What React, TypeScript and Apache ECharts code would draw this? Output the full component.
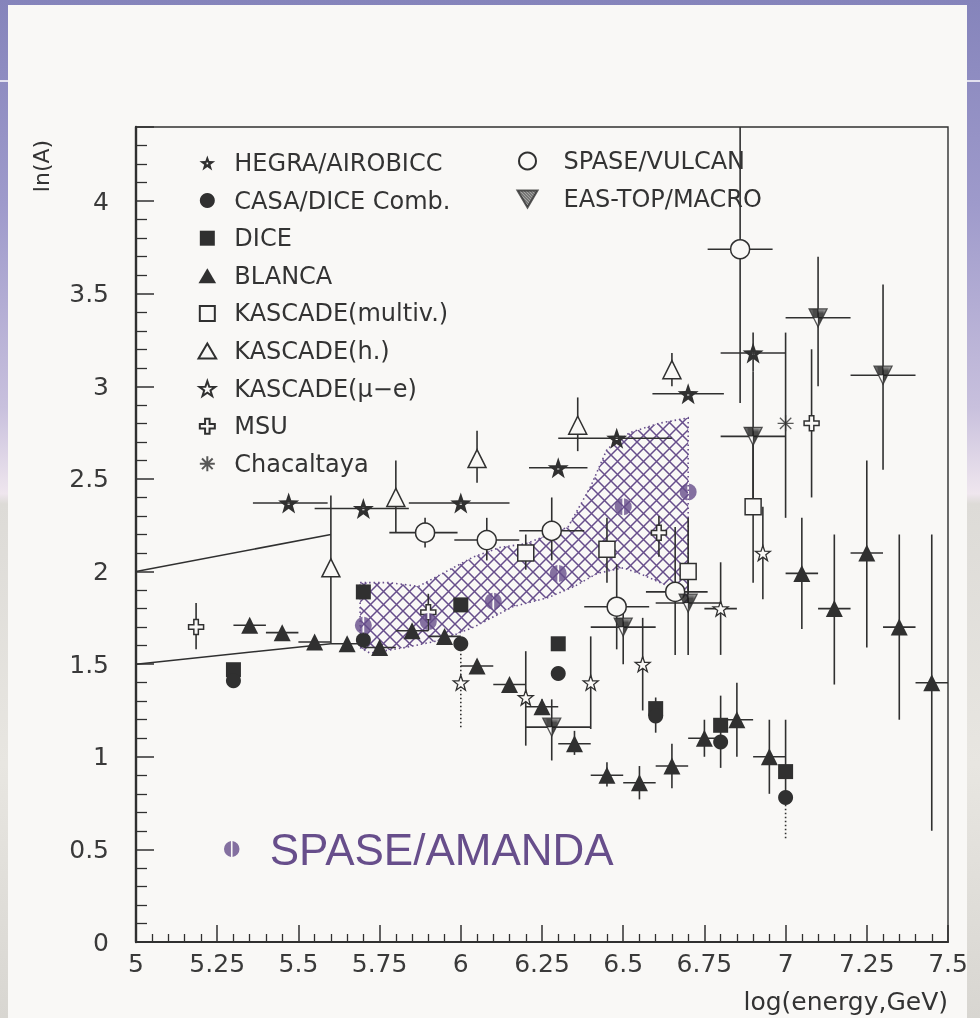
import React, { useEffect, useRef } from "react";
import * as echarts from "echarts";

const INK = "#303030";
const PURPLE = "#674e8b";
const PANEL = "#f9f8f6";
const FONT = "DejaVu Sans";

// axis ranges
const xRange = [5, 7.5];
const xTickStep = 0.25;
const yRange = [0, 4.4];
const yTickStep = 0.5;

// each row: [x, y, xLow, xHigh, yLow, yHigh]  (null = no bar)
const hegraAirobicc = [
  [5.47, 2.37, 5.36, 5.59, null, null],
  [5.70, 2.34, 5.55, 5.84, null, null],
  [6.00, 2.37, 5.84, 6.15, null, null],
  [6.30, 2.56, 6.21, 6.39, null, null],
  [6.48, 2.72, 6.30, 6.65, null, null],
  [6.70, 2.96, 6.59, 6.81, null, null],
  [6.90, 3.18, 6.80, 7.00, 3.08, 3.29],
];
const casaDiceComb = [
  [5.30, 1.41, null, null, null, null],
  [5.70, 1.63, null, null, null, null],
  [6.00, 1.61, null, null, null, null],
  [6.30, 1.45, null, null, null, null],
  [6.60, 1.22, null, null, 1.13, 1.32],
  [6.80, 1.08, null, null, 0.94, 1.33],
  [7.00, 0.78, null, null, null, null],
];
const dice = [
  [5.30, 1.47, null, null, null, null],
  [5.70, 1.89, null, null, null, null],
  [6.00, 1.82, null, null, null, null],
  [6.30, 1.61, null, null, null, null],
  [6.60, 1.26, null, null, null, null],
  [6.80, 1.17, null, null, null, null],
  [7.00, 0.92, null, null, 0.78, 1.20],
];
const blanca = [
  [5.35, 1.71, 5.30, 5.40, null, null],
  [5.45, 1.67, 5.40, 5.50, null, null],
  [5.55, 1.62, 5.50, 5.60, null, null],
  [5.65, 1.61, 5.60, 5.70, null, null],
  [5.75, 1.59, 5.70, 5.80, null, null],
  [5.85, 1.68, 5.80, 5.90, null, null],
  [5.95, 1.65, 5.90, 6.00, null, null],
  [6.05, 1.49, 6.00, 6.10, null, null],
  [6.15, 1.39, 6.10, 6.20, null, null],
  [6.25, 1.27, 6.20, 6.30, 1.23, 1.31],
  [6.35, 1.07, 6.30, 6.40, 1.01, 1.14],
  [6.45, 0.90, 6.40, 6.50, 0.84, 0.97],
  [6.55, 0.86, 6.50, 6.60, 0.77, 0.95],
  [6.65, 0.95, 6.60, 6.70, 0.83, 1.07],
  [6.75, 1.10, 6.70, 6.80, 1.00, 1.20],
  [6.85, 1.20, 6.80, 6.90, 1.00, 1.40],
  [6.95, 1.00, 6.90, 7.00, 0.80, 1.20],
  [7.05, 1.99, 7.00, 7.10, 1.69, 2.29],
  [7.15, 1.80, 7.10, 7.20, 1.39, 2.20],
  [7.25, 2.10, 7.20, 7.30, 1.59, 2.60],
  [7.35, 1.70, 7.30, 7.40, 1.20, 2.20],
  [7.45, 1.40, 7.40, 7.50, 0.60, 2.20],
];
const kascadeMultiv = [
  [6.20, 2.10, null, null, 2.01, 2.20],
  [6.45, 2.12, null, null, 1.94, 2.29],
  [6.70, 2.00, null, null, 1.80, 2.29],
  [6.90, 2.35, null, null, 1.94, 2.70],
];
const kascadeH = [
  [5.60, 2.02, null, null, 1.61, 2.41],
  [5.80, 2.40, null, null, 2.21, 2.60],
  [6.05, 2.61, null, null, 2.48, 2.76],
  [6.36, 2.79, null, null, 2.65, 2.94],
  [6.65, 3.09, null, null, 3.00, 3.18],
];
const kascadeMuE = [
  [6.00, 1.40, null, null, null, null],
  [6.20, 1.32, null, null, 1.06, 1.57],
  [6.40, 1.40, null, null, 1.15, 1.65],
  [6.56, 1.50, null, null, 1.25, 1.75],
  [6.80, 1.80, 6.75, 6.85, 1.55, 2.05],
  [6.93, 2.10, null, null, 1.85, 2.35],
];
const msu = [
  [5.185, 1.70, null, null, 1.58, 1.83],
  [5.90, 1.78, null, null, 1.68, 1.88],
  [6.61, 2.21, null, null, 2.08, 2.30],
  [7.08, 2.80, null, null, 2.40, 3.20],
];
const chacaltaya = [[7.00, 2.80, null, null, 2.29, 3.29]];
const spaseVulcan = [
  [5.89, 2.21, 5.78, 5.99, 2.13, 2.29],
  [6.08, 2.17, 5.98, 6.18, 2.06, 2.29],
  [6.28, 2.22, 6.18, 6.38, 2.06, 2.40],
  [6.48, 1.81, 6.38, 6.58, 1.58, 2.04],
  [6.66, 1.89, 6.57, 6.76, 1.55, 2.24],
  [6.86, 3.74, 6.76, 6.96, 2.91, 4.40],
];
const easTopMacro = [
  [6.28, 1.16, 6.20, 6.40, 0.98, 1.31],
  [6.50, 1.70, 6.40, 6.60, 1.50, 1.85],
  [6.70, 1.83, 6.60, 6.80, 1.55, 2.05],
  [6.90, 2.73, 6.80, 7.00, 2.35, 3.08],
  [7.10, 3.37, 7.00, 7.20, 3.00, 3.70],
  [7.30, 3.06, 7.20, 7.40, 2.55, 3.55],
];
const spaseAmanda = [
  [5.70, 1.71],
  [5.90, 1.73],
  [6.10, 1.84],
  [6.30, 1.99],
  [6.50, 2.35],
  [6.70, 2.43],
];
// dotted systematic bars: [x, yLow, yHigh]
const casaSysBars = [
  [6.00, 1.16, 1.61],
  [7.00, 0.56, 0.78],
];
// hatched SPASE/AMANDA band
const bandUpper = [
  [5.69, 1.94], [5.78, 1.94], [5.87, 1.92], [6.04, 2.08], [6.12, 2.13], [6.20, 2.15],
  [6.33, 2.24], [6.40, 2.46], [6.45, 2.66], [6.52, 2.75], [6.61, 2.80], [6.70, 2.83],
];
const bandLower = [
  [6.70, 1.80], [6.64, 1.92], [6.55, 1.99], [6.50, 2.02], [6.42, 1.99], [6.35, 1.92],
  [6.27, 1.86], [6.16, 1.81], [6.04, 1.70], [5.94, 1.63], [5.83, 1.59], [5.72, 1.56], [5.69, 1.59],
];
// straight reference lines
const refLineUpper = [[5.0, 2.0], [5.6, 2.2]];
const refLineLower = [[5.0, 1.5], [5.6, 1.61]];

const STAR = "path://M10,0 L12.35,6.76 L19.51,6.91 L13.8,11.24 L15.88,18.09 L10,14 L4.12,18.09 L6.2,11.24 L0.49,6.91 L7.65,6.76 Z";
const STAR_DOT = STAR + " M9,8.4 L9,10.6 L11,10.6 L11,8.4 Z";
const CROSS = "path://M7,0 L13,0 L13,7 L20,7 L20,13 L13,13 L13,20 L7,20 L7,13 L0,13 L0,7 L7,7 Z";
const ASTER = "path://M10,0 L10,20 M0,10 L20,10 M2.9,2.9 L17.1,17.1 M17.1,2.9 L2.9,17.1";
const HALF = "path://M9,0.1 A10,10 0 0 0 9,19.9 Z M11,0.1 A10,10 0 0 1 11,19.9 Z";
const DOWN_TRI = "path://M0,0 L20,0 L10,17 Z";
const UP_TRI = "path://M10,0 L20,17 L0,17 Z";
const SQUARE = "path://M0,0 L20,0 L20,20 L0,20 Z";

function fill(rows: any[]) {
  return rows.map((r) => [
    r[0], r[1],
    r[2] ?? r[0], r[3] ?? r[0],
    r[4] ?? r[1], r[5] ?? r[1],
  ]);
}

function makeCrossHatch() {
  const s = 13;
  const c = document.createElement("canvas");
  c.width = s;
  c.height = s;
  const g = c.getContext("2d")!;
  g.strokeStyle = PURPLE;
  g.lineWidth = 1.5;
  g.beginPath();
  g.moveTo(0, 0);
  g.lineTo(s, s);
  g.moveTo(s, 0);
  g.lineTo(0, s);
  g.stroke();
  return { image: c.toDataURL(), repeat: "repeat", imageWidth: s, imageHeight: s };
}

function makeStripes() {
  const s = 3;
  const c = document.createElement("canvas");
  c.width = s;
  c.height = s;
  const g = c.getContext("2d")!;
  g.fillStyle = "#ffffff";
  g.fillRect(0, 0, s, s);
  g.fillStyle = "#1e1e1e";
  for (let i = 0; i < s; i++) {
    g.fillRect(i, i, 1, 1);
    g.fillRect((i + 1) % s, i, 1, 1);
  }
  return { image: c.toDataURL(), repeat: "repeat", imageWidth: s, imageHeight: s };
}

function errorSeries(rows: any[]) {
  return {
    type: "custom",
    z: 2,
    silent: true,
    dimensions: ["x", "y", "xlo", "xhi", "ylo", "yhi"],
    encode: { x: 0, y: 1 },
    data: fill(rows),
    renderItem: (params: any, api: any) => {
      const x = api.value(0), y = api.value(1);
      const xlo = api.value(2), xhi = api.value(3);
      const ylo = api.value(4), yhi = api.value(5);
      const style = { stroke: INK, lineWidth: 1.6 };
      const children: any[] = [];
      if (xlo !== xhi) {
        const a = api.coord([xlo, y]);
        const b = api.coord([xhi, y]);
        children.push({ type: "line", shape: { x1: a[0], y1: a[1], x2: b[0], y2: b[1] }, style });
      }
      if (ylo !== yhi) {
        const a = api.coord([x, ylo]);
        const b = api.coord([x, yhi]);
        children.push({ type: "line", shape: { x1: a[0], y1: a[1], x2: b[0], y2: b[1] }, style });
      }
      return { type: "group", children };
    },
  };
}

function pointSeries(name: string, rows: any[], symbol: string, size: number, itemStyle: any) {
  return {
    type: "scatter",
    name,
    z: 3,
    silent: true,
    symbol,
    symbolSize: size,
    itemStyle,
    data: rows.map((r) => [r[0], r[1]]),
  };
}

function buildOption(hatch: any, stripes: any) {
  const filled = { color: INK, borderWidth: 0, opacity: 1 };
  const open = { color: PANEL, borderColor: INK, borderWidth: 1.5, opacity: 1 };
  const legendText = { fontFamily: FONT, fontSize: 24, color: "#333" };
  return {
    animation: false,
    backgroundColor: "transparent",
    textStyle: { fontFamily: FONT },
    grid: {
      left: 136, right: 32, top: 127, bottom: 76,
      show: true, borderColor: INK, borderWidth: 1.4, backgroundColor: "transparent",
      outerBoundsMode: "none",
    },
    xAxis: {
      type: "value", min: xRange[0], max: xRange[1], interval: xTickStep,
      axisLine: { onZero: false, lineStyle: { color: INK, width: 2 } },
      axisTick: { inside: true, length: 17, lineStyle: { color: INK, width: 1.5 } },
      minorTick: { show: true, splitNumber: 5, length: 8, lineStyle: { color: INK, width: 1.3 } },
      splitLine: { show: false },
      minorSplitLine: { show: false },
      axisLabel: { color: "#3a3a3a", fontSize: 25, margin: 9, fontFamily: FONT },
    },
    yAxis: {
      type: "value", min: yRange[0], max: yRange[1], interval: yTickStep,
      axisLine: { onZero: false, lineStyle: { color: INK, width: 2.4 } },
      axisTick: { inside: true, length: 18, lineStyle: { color: INK, width: 1.5 } },
      minorTick: { show: true, splitNumber: 5, length: 11, lineStyle: { color: INK, width: 1.3 } },
      splitLine: { show: false },
      minorSplitLine: { show: false },
      axisLabel: { color: "#3a3a3a", fontSize: 25, margin: 27, fontFamily: FONT, showMaxLabel: false },
    },
    legend: [
      {
        orient: "vertical", left: 197.5, top: 151, padding: 0,
        itemWidth: 44, itemHeight: 15, itemGap: 13.6, selectedMode: false,
        textStyle: legendText,
        data: ["HEGRA/AIROBICC", "CASA/DICE Comb.", "DICE", "BLANCA", "KASCADE(multiv.)",
          "KASCADE(h.)", "KASCADE(μ−e)", "MSU", "Chacaltaya"],
      },
      {
        orient: "vertical", left: 516.5, top: 149, padding: 0,
        itemWidth: 62, itemHeight: 17, itemGap: 14, selectedMode: false,
        textStyle: legendText,
        data: ["SPASE/VULCAN", "EAS-TOP/MACRO"],
      },
      {
        orient: "vertical", left: 224, top: 827, padding: 0,
        itemWidth: 66, itemHeight: 16, selectedMode: false,
        textStyle: { fontFamily: "Liberation Sans", fontSize: 44, color: PURPLE },
        data: ["SPASE/AMANDA"],
      },
    ],
    graphic: [
      {
        type: "rect", z: -20, silent: true,
        shape: { x: 0, y: 0, width: 980, height: 1018 },
        style: {
          fill: {
            type: "linear", x: 0, y: 0, x2: 0, y2: 1,
            colorStops: [
              { offset: 0, color: "#8584bb" },
              { offset: 0.2, color: "#9e9acb" },
              { offset: 0.4, color: "#c8c0dd" },
              { offset: 0.485, color: "#efe6ee" },
              { offset: 0.495, color: "#dddbd7" },
              { offset: 0.75, color: "#e8e6e1" },
              { offset: 1, color: "#d8d6d1" },
            ],
          },
        },
      },
      { type: "rect", z: -19, silent: true, shape: { x: 8, y: 5, width: 959, height: 1013 }, style: { fill: PANEL } },
      { type: "line", z: -18, silent: true, shape: { x1: 0, y1: 81, x2: 8, y2: 81 }, style: { stroke: "#ffffff", lineWidth: 1.5 } },
      { type: "line", z: -18, silent: true, shape: { x1: 967, y1: 81, x2: 980, y2: 81 }, style: { stroke: "#ffffff", lineWidth: 1.5 } },
      {
        type: "text", x: 41, y: 166, rotation: Math.PI / 2, z: 10,
        style: { text: "ln(A)", fontSize: 22, fontFamily: FONT, fill: "#333", align: "center", verticalAlign: "middle", textAlign: "center", textVerticalAlign: "middle" },
      },
      {
        type: "text", x: 948, y: 1001, z: 10,
        style: { text: "log(energy,GeV)", fontSize: 25, fontFamily: FONT, fill: "#333", align: "right", verticalAlign: "middle", textAlign: "right", textVerticalAlign: "middle" },
      },
    ],
    series: [
      {
        type: "custom", name: "band", z: 1, silent: true,
        data: [[bandUpper[0][0], bandUpper[0][1]]],
        renderItem: (params: any, api: any) => {
          const pts = bandUpper.concat(bandLower).map((p) => api.coord(p));
          return {
            type: "polygon",
            shape: { points: pts },
            style: { fill: hatch, stroke: PURPLE, lineWidth: 1.6, lineDash: [1.5, 3] },
          };
        },
      },
      {
        type: "line", name: "refUpper", z: 2, silent: true, symbol: "none",
        lineStyle: { color: INK, width: 1.5 }, data: refLineUpper,
      },
      {
        type: "line", name: "refLower", z: 2, silent: true, symbol: "none",
        lineStyle: { color: INK, width: 1.5 }, data: refLineLower,
      },
      {
        type: "custom", name: "casaSys", z: 2, silent: true,
        data: casaSysBars,
        renderItem: (params: any, api: any) => {
          const a = api.coord([api.value(0), api.value(1)]);
          const b = api.coord([api.value(0), api.value(2)]);
          return {
            type: "line",
            shape: { x1: a[0], y1: a[1], x2: b[0], y2: b[1] },
            style: { stroke: INK, lineWidth: 1.6, lineDash: [1.5, 2.5] },
          };
        },
      },
      errorSeries(hegraAirobicc),
      errorSeries(casaDiceComb),
      errorSeries(dice),
      errorSeries(blanca),
      errorSeries(kascadeMultiv),
      errorSeries(kascadeH),
      errorSeries(kascadeMuE),
      errorSeries(msu),
      errorSeries(chacaltaya),
      errorSeries(spaseVulcan),
      errorSeries(easTopMacro),
      pointSeries("DICE", dice, SQUARE, 15, filled),
      pointSeries("CASA/DICE Comb.", casaDiceComb, "circle", 15, filled),
      pointSeries("BLANCA", blanca, UP_TRI, 17, filled),
      pointSeries("HEGRA/AIROBICC", hegraAirobicc, STAR_DOT, 21, filled),
      pointSeries("KASCADE(multiv.)", kascadeMultiv, SQUARE, 16, open),
      pointSeries("KASCADE(h.)", kascadeH, UP_TRI, 18, open),
      pointSeries("KASCADE(μ−e)", kascadeMuE, STAR, 15, { ...open, borderWidth: 1.3 }),
      pointSeries("MSU", msu, CROSS, 15, open),
      pointSeries("Chacaltaya", chacaltaya, ASTER, 16, { color: "rgba(0,0,0,0)", borderColor: INK, borderWidth: 1.3 }),
      pointSeries("SPASE/VULCAN", spaseVulcan, "circle", 19, open),
      pointSeries("EAS-TOP/MACRO", easTopMacro, DOWN_TRI, 18, { color: stripes, borderColor: INK, borderWidth: 1.3 }),
      pointSeries("SPASE/AMANDA", spaseAmanda, HALF, 17, { color: PURPLE, borderWidth: 0 }),
    ],
  };
}

export default function App() {
  const ref = useRef<HTMLDivElement>(null);
  useEffect(() => {
    const el = ref.current!;
    const chart = echarts.init(el, null, { renderer: "svg" });
    chart.setOption(buildOption(makeCrossHatch(), makeStripes()) as any);
    return () => chart.dispose();
  }, []);
  return (
    <div
      ref={ref}
      style={{ position: "fixed", left: 0, top: 0, width: 980, height: 1018 }}
    />
  );
}
